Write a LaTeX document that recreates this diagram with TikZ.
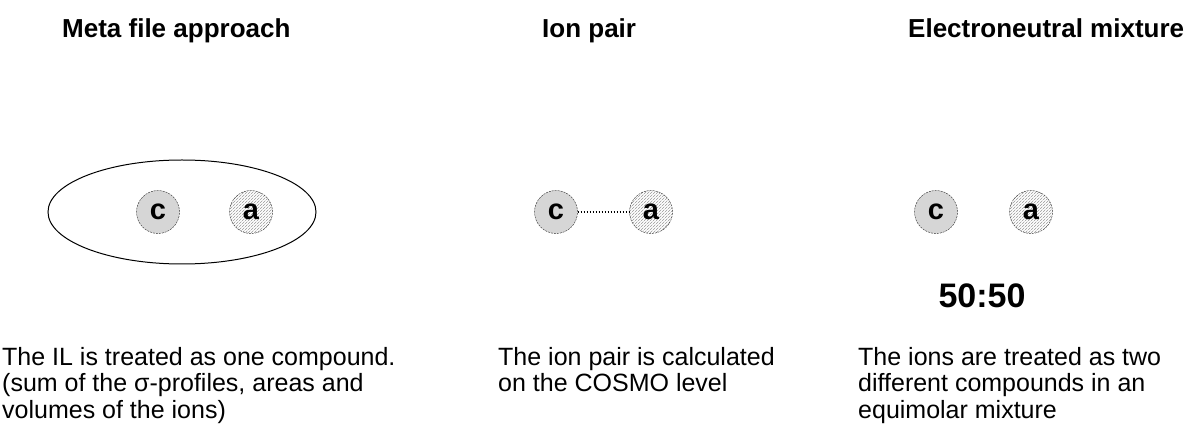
\documentclass[tikz,border=0pt]{standalone}
\usepackage{fontspec}
\setmainfont{Liberation Sans}
\usetikzlibrary{patterns,shapes.geometric}

\begin{document}
\begin{tikzpicture}[
	x=1pt, y=-1pt,
	head/.style={anchor=base west, inner sep=0pt, font=\fontsize{26}{30}\selectfont\bfseries},
	desc/.style={anchor=north west, inner sep=0pt, align=left,
		font=\fontsize{25}{26.5}\selectfont},
	ion/.style={circle, draw=black!85, dash pattern=on 2pt off 1pt, minimum size=43pt,
		inner sep=0pt, font=\fontsize{29}{29}\selectfont\bfseries},
	cation/.style={ion, fill=black!16},
	anion/.style={ion, pattern=north east lines, pattern color=black!40},
	link/.style={line width=1.5pt, dash pattern=on 1.5pt off 1.5pt}
]
	\useasboundingbox (0,0) rectangle (1203,430);
	\node[head] (meta) at (62,38) {Meta file approach};
	\node[head] (pair) at (542,38) {Ion pair};
	\node[head] (mix) at (908,38) {Electroneutral mixture};

	\node[ellipse, draw, line width=1pt, minimum width=268pt, minimum height=104pt]
		(il) at (182,212) {};
	\node[cation] (c1) at (158,212) {c};
	\node[anion] (a1) at (251,212) {a};

	\node[cation] (c2) at (556,212) {c};
	\node[anion] (a2) at (651,212) {a};
	\draw[link] (c2) -- (a2);

	\node[cation] (c3) at (936,212) {c};
	\node[anion] (a3) at (1031,212) {a};
	\node[font=\fontsize{34}{34}\selectfont\bfseries] (ratio) at (982,296) {50:50};

	\node[desc] (t1) at (2,347)
		{The IL is treated as one compound.\\ (sum of the σ-profiles, areas and\\ volumes of the ions)};
	\node[desc] (t2) at (498,347)
		{The ion pair is calculated\\ on the COSMO level};
	\node[desc] (t3) at (858,347)
		{The ions are treated as two\\ different compounds in an\\ equimolar mixture};
\end{tikzpicture}
\end{document}
